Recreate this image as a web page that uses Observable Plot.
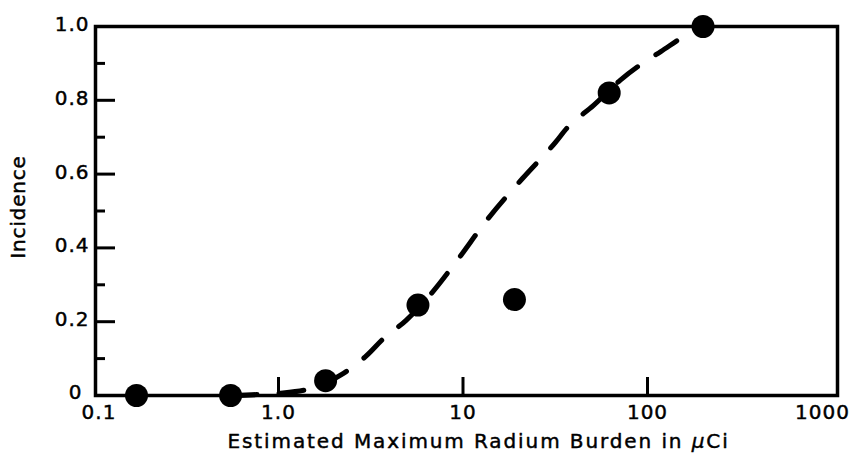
<!DOCTYPE html>
<html>
<head>
<meta charset="utf-8">
<script src="https://cdn.jsdelivr.net/npm/d3@7"></script>
<script src="https://cdn.jsdelivr.net/npm/@observablehq/plot@0.6"></script>
<style>
  html, body { margin: 0; padding: 0; background: #fff; }
  #chart svg { display: block; }
</style>
</head>
<body>
<div id="chart"></div>
<script>
// Observed dose groups: maximum radium burden (µCi) and tumour incidence
const burden = [0.17, 0.55, 1.8, 5.7, 19, 62, 200];
const incidence = [0, 0, 0.04, 0.245, 0.26, 0.82, 1.0];

// Fitted dose-response curve (dashed), sampled along its length
const fitBurden = [0.56, 0.8, 1.0, 1.5, 2.25, 3.0, 3.7, 4.9, 6.8, 9.1, 13.7, 21, 31.7, 36.8, 51, 71, 95, 118, 161, 200];
const fitIncidence = [0, 0.003, 0.006, 0.019, 0.06, 0.108, 0.154, 0.203, 0.279, 0.36, 0.48, 0.588, 0.686, 0.726, 0.786, 0.854, 0.902, 0.932, 0.976, 1.0];

// Axis ticks and labels
const xFirstTick = [0.1];
const xFirstTickLabel = ["0.1"];
const xTicks = [1, 10, 100];
const xTickLabels = ["1.0", "10", "100"];
const xLastTick = [1000];
const xLastTickLabel = ["1000"];
const xInnerTicks = [1, 10, 100];
const yZeroTick = [0];
const yZeroLabel = ["0"];
const yTicks = [0.2, 0.4, 0.6, 0.8, 1.0];
const yTickLabels = ["0.2", "0.4", "0.6", "0.8", "1.0"];
const yMajorTicks = [0.2, 0.4, 0.6, 0.8];
const yMinorTicks = [0.1, 0.3, 0.5, 0.7, 0.9];

const xTitle = "Estimated Maximum Radium Burden in μCi";
const yTitle = "Incidence";

const points = burden.map((x, i) => ({x, y: incidence[i]}));
const fit = fitBurden.map((x, i) => ({x, y: fitIncidence[i]}));

const W = 852, H = 464;
const mL = 95, mR = 15, mT = 26, mB = 69;
const plotW = W - mL - mR;
const plotH = H - mT - mB;

const labelFor = (values, labels) => (d) => labels[values.indexOf(d)];
// a hairline outline gives the type the weight of the printed figure
const ink = {fill: "#000", stroke: "#000", strokeWidth: 0.45};

const chart = Plot.plot({
  width: W,
  height: H,
  marginLeft: mL,
  marginRight: mR,
  marginTop: mT,
  marginBottom: mB,
  style: {fontFamily: "'DejaVu Sans', sans-serif", fontSize: "18px", color: "#000", background: "#fff"},
  x: {type: "log", domain: [0.1, 1000], range: [93.5, 831.5], axis: null},
  y: {domain: [0, 1], axis: null},
  marks: [
    Plot.frame({stroke: "#000", strokeWidth: 3.5}),
    // inward tick marks
    Plot.tickY(yMajorTicks, {y: (d) => d, stroke: "#000", strokeWidth: 3, insetRight: plotW - 20}),
    Plot.tickY(yMinorTicks, {y: (d) => d, stroke: "#000", strokeWidth: 3, insetRight: plotW - 10}),
    Plot.tickX(xInnerTicks, {x: (d) => d, stroke: "#000", strokeWidth: 3, insetTop: plotH - 18}),
    // tick labels
    Plot.text(yTicks, {
      y: (d) => d, frameAnchor: "left", dx: -6, dy: -2, textAnchor: "end",
      text: labelFor(yTicks, yTickLabels), fontSize: 20, ...ink, className: "tick-y"
    }),
    Plot.text(yZeroTick, {
      y: (d) => d, frameAnchor: "left", dx: -13, dy: -3, textAnchor: "end",
      text: labelFor(yZeroTick, yZeroLabel), fontSize: 20, ...ink, className: "tick-y"
    }),
    Plot.text(xFirstTick, {
      x: (d) => d, frameAnchor: "bottom", dy: 23, dx: 5,
      text: labelFor(xFirstTick, xFirstTickLabel), fontSize: 20, ...ink, className: "tick-x"
    }),
    Plot.text(xTicks, {
      x: (d) => d, frameAnchor: "bottom", dy: 23, dx: 0,
      text: labelFor(xTicks, xTickLabels), fontSize: 20, ...ink, className: "tick-x"
    }),
    Plot.text(xLastTick, {
      x: (d) => d, frameAnchor: "bottom", dy: 23, dx: 18, textAnchor: "end",
      text: labelFor(xLastTick, xLastTickLabel), fontSize: 20, ...ink, className: "tick-x"
    }),
    // axis titles
    Plot.text([yTitle], {
      frameAnchor: "left", rotate: -90, dx: -77, dy: -4, textAnchor: "middle",
      fontSize: 20, ...ink, className: "title-y"
    }),
    Plot.text([xTitle], {
      frameAnchor: "bottom-left", dx: 132, dy: 52, textAnchor: "start",
      fontSize: 20, ...ink, className: "title-x"
    }),
    // fitted curve
    Plot.line(fit, {
      x: "x", y: "y", curve: "monotone-x", stroke: "#000", strokeWidth: 5,
      strokeDasharray: "25,22", strokeLinecap: "round"
    }),
    // observed points
    Plot.dot(points, {x: "x", y: "y", r: 11.5, fill: "#000", stroke: "none"})
  ]
});

// letter spacing of the typeset labels
const svg = d3.select(chart);
svg.selectAll(".tick-y text, .tick-x text").style("letter-spacing", "1px");
svg.selectAll(".title-y text").style("letter-spacing", "0.8px");
svg.selectAll(".title-x text").style("letter-spacing", "1.9px");

// set the micro sign of the unit in italics
svg.selectAll(".title-x text").each(function () {
  const t = d3.select(this);
  const s = t.text();
  const i = s.indexOf("μ");
  if (i < 0) return;
  t.text(null);
  t.append("tspan").text(s.slice(0, i));
  t.append("tspan").attr("font-style", "italic").text("μ");
  t.append("tspan").text(s.slice(i + 1));
});

document.getElementById("chart").appendChild(chart);
</script>
</body>
</html>
